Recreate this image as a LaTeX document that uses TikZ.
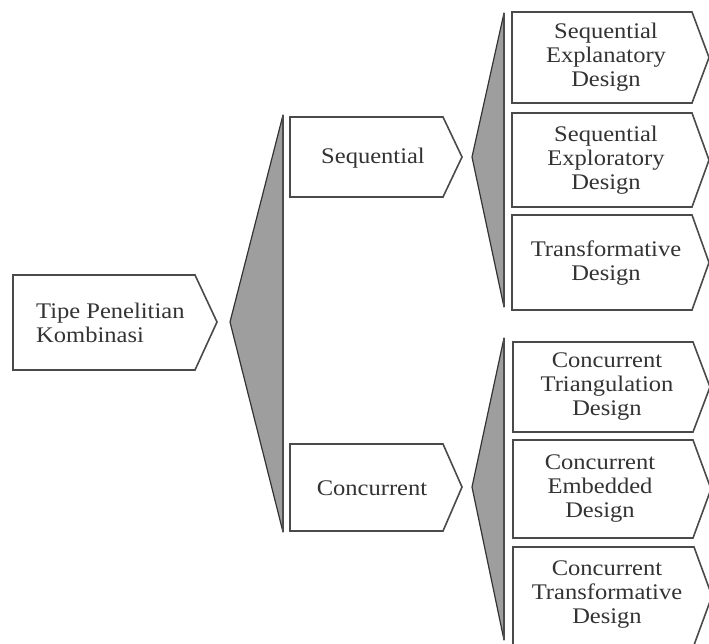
\documentclass[tikz,border=0pt]{standalone}
\usepackage{fontspec}
\setmainfont{Liberation Serif}[FakeStretch=1.1]
\definecolor{ink}{HTML}{333333}
\definecolor{edge}{HTML}{4A4A4A}
\definecolor{wedge}{HTML}{9E9E9E}
\begin{document}
\begin{tikzpicture}[x=1pt,y=-1pt,
  chev/.style={draw=edge, line width=1.6pt, fill=white, line join=miter},
  wedgeshape/.style={fill=wedge, draw=black!80, line width=1.2pt, line join=round},
  spine/.style={draw=black!70, line width=2.6pt},
  lbl/.style={text=ink, font=\fontsize{22.3}{24}\selectfont, align=center, inner sep=0pt}]
\useasboundingbox (0,0) rectangle (709,643);

% root chevron
\draw[chev] (13,275) -- (195,275) -- (217,322) -- (195,370) -- (13,370) -- cycle;
\node[lbl, align=left, anchor=west] (root) at (36,323) {Tipe Penelitian\\Kombinasi};

% main wedge
\draw[wedgeshape] (283,115) -- (230,322) -- (283,532) -- cycle;
\draw[spine] (283,115) -- (283,532);

% second level chevrons
\draw[chev] (290,117) -- (443,117) -- (462,157) -- (443,197) -- (290,197) -- cycle;
\node[lbl] (seq) at (373,158) {Sequential};
\draw[chev] (290,444) -- (443,444) -- (462,487) -- (443,531) -- (290,531) -- cycle;
\node[lbl] (con) at (372,488) {Concurrent};

% wedges of the third level
\draw[wedgeshape] (504,13) -- (472,157) -- (504,307) -- cycle;
\draw[spine] (504,13) -- (504,307);
\draw[wedgeshape] (504,338) -- (472,487) -- (504,640) -- cycle;
\draw[spine] (504,338) -- (504,640);

% sequential designs
\draw[chev] (512,12) -- (692,12) -- (709,57.5) -- (692,103) -- (512,103) -- cycle;
\node[lbl] (seqA) at (606,57.5) {Sequential\\Explanatory\\Design};
\draw[chev] (512,113) -- (692,113) -- (709,160) -- (692,207) -- (512,207) -- cycle;
\node[lbl] (seqB) at (606,160) {Sequential\\Exploratory\\Design};
\draw[chev] (512,215) -- (692,215) -- (709,262.5) -- (692,310) -- (512,310) -- cycle;
\node[lbl] (seqC) at (606,263) {Transformative\\Design};

% concurrent designs
\draw[chev] (513,342) -- (693,342) -- (710,387) -- (693,432) -- (513,432) -- cycle;
\node[lbl] (conA) at (607,387) {Concurrent\\Triangulation\\Design};
\draw[chev] (513,440) -- (693,440) -- (711,489) -- (693,538) -- (513,538) -- cycle;
\node[lbl] (conB) at (600,489) {Concurrent\\Embedded\\Design};
\draw[chev] (513,547) -- (694,547) -- (712,596) -- (694,645) -- (513,645) -- cycle;
\node[lbl] (conC) at (607,595) {Concurrent\\Transformative\\Design};
\end{tikzpicture}
\end{document}
